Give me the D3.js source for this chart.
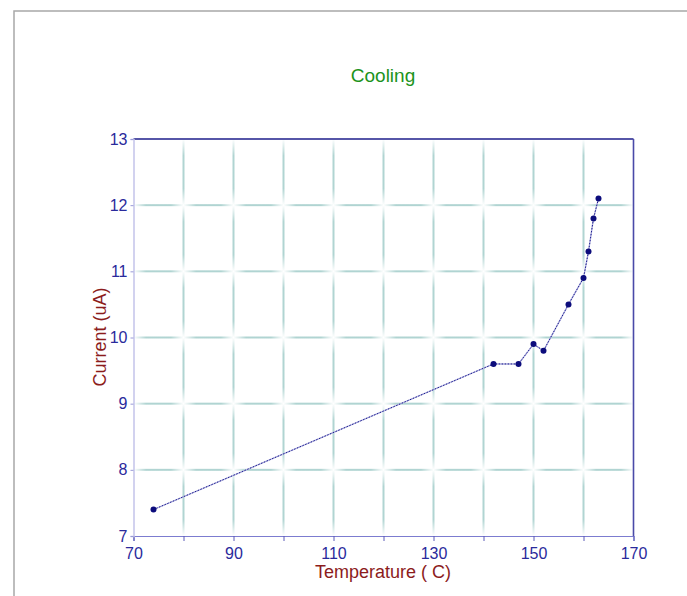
<!DOCTYPE html>
<html>
<head>
<meta charset="utf-8">
<script src="https://cdn.jsdelivr.net/npm/d3@7/dist/d3.min.js"></script>
<style>
  body { margin:0; background:#fff; }
  text { font-family: "Liberation Sans", Arial, sans-serif; }
</style>
</head>
<body>
<svg id="chart" width="687" height="596"></svg>
<script>
// data
var temps    = [74, 142, 147, 150, 152, 157, 160, 161, 162, 163]
var currents = [7.4, 9.6, 9.6, 9.9, 9.8, 10.5, 10.9, 11.3, 11.8, 12.1]
var xTicks = [70, 80, 90, 100, 110, 120, 130, 140, 150, 160, 170]
var xLabels = [70, 90, 110, 130, 150, 170]
var yTicks = [7, 8, 9, 10, 11, 12, 13]

var svg = d3.select("#chart")

var x = d3.scaleLinear().domain([70, 170]).range([133.5, 633.5])
var y = d3.scaleLinear().domain([7, 13]).range([536, 139])

// page frame
svg.append("rect").attr("x", 14).attr("y", 11).attr("width", 800).attr("height", 800)
  .attr("fill", "none").attr("stroke", "#a8a8a8").attr("stroke-width", 1.5)

var defs = svg.append("defs")
function grad(id, vertical){
  var g = defs.append("linearGradient").attr("id", id)
    .attr("x1", 0).attr("y1", 0).attr("x2", vertical ? 0 : 1).attr("y2", vertical ? 1 : 0)
  g.append("stop").attr("offset", "0%").attr("stop-color", "#3a948e").attr("stop-opacity", 0)
  g.append("stop").attr("offset", "25%").attr("stop-color", "#3a948e").attr("stop-opacity", 0.4)
  g.append("stop").attr("offset", "75%").attr("stop-color", "#3a948e").attr("stop-opacity", 0.4)
  g.append("stop").attr("offset", "100%").attr("stop-color", "#3a948e").attr("stop-opacity", 0)
}
grad("gh", false)
grad("gv", true)

var grid = svg.append("g")
//horizontal grid, one faded segment per cell
yTicks.slice(1, -1).forEach(function(v){
  for (var i = 0; i < xTicks.length - 1; i++){
    grid.append("rect")
      .attr("x", x(xTicks[i])).attr("y", y(v) - 1)
      .attr("width", x(xTicks[i+1]) - x(xTicks[i])).attr("height", 2)
      .attr("fill", "url(#gh)")
  }
})
//vertical grid
xTicks.slice(1, -1).forEach(function(v){
  for (var i = 0; i < yTicks.length - 1; i++){
    grid.append("rect")
      .attr("x", x(v) - 1).attr("y", y(yTicks[i+1]))
      .attr("width", 2).attr("height", y(yTicks[i]) - y(yTicks[i+1]))
      .attr("fill", "url(#gv)")
  }
})

// plot borders
svg.append("line").attr("x1", x(70)).attr("x2", x(170)).attr("y1", y(13)).attr("y2", y(13))
  .attr("stroke", "#5656a8").attr("stroke-width", 2)
svg.append("line").attr("x1", x(170)).attr("x2", x(170)).attr("y1", y(13)).attr("y2", y(7))
  .attr("stroke", "#4a4aa8").attr("stroke-width", 1.6)

// axes
var xAxis = svg.append("g").attr("transform", "translate(0," + y(7) + ")")
  .call(d3.axisBottom(x).tickValues(xTicks).tickSize(5).tickFormat(function(d){
    return xLabels.indexOf(d) >= 0 ? d : "" }))
xAxis.select(".domain").attr("stroke", "#7c7cd0").attr("stroke-width", 1.2)
xAxis.selectAll(".tick line").attr("stroke", "#5a5ab8")
xAxis.selectAll("text").attr("fill", "#2a2a9c").attr("font-size", 16).attr("dy", "0.95em")

var yAxis = svg.append("g").attr("transform", "translate(" + x(70) + ",0)")
  .call(d3.axisLeft(y).tickValues(yTicks).tickSize(3).tickPadding(3).tickFormat(d3.format("d")))
yAxis.select(".domain").attr("stroke", "#c4c4ea").attr("stroke-width", 1.5)
yAxis.selectAll(".tick line").attr("stroke", "#9a9ad8")
yAxis.selectAll("text").attr("fill", "#2a2a9c").attr("font-size", 16)

// data line and points
var line = d3.line().x(function(d, i){ return x(temps[i]) }).y(function(d){ return y(d) })
svg.append("path").attr("d", line(currents)).attr("fill", "none")
  .attr("stroke", "#b4b4e0").attr("stroke-width", 1.4)
svg.append("path").attr("d", line(currents)).attr("fill", "none")
  .attr("stroke", "#1e1e90").attr("stroke-width", 1).attr("stroke-dasharray", "1.5,1.5")

svg.selectAll("circle.pt").data(currents).enter().append("circle")
  .attr("class", "pt")
  .attr("cx", function(d, i){ return x(temps[i]) })
  .attr("cy", function(d){ return y(d) })
  .attr("r", 3).attr("fill", "#0c0c7c")

// titles
svg.append("text").attr("x", 383).attr("y", 82).attr("text-anchor", "middle")
  .attr("fill", "#1c931c").attr("font-size", 19).text("Cooling")
svg.append("text").attr("x", 383).attr("y", 578).attr("text-anchor", "middle")
  .attr("fill", "#8c1c1c").attr("font-size", 18).text("Temperature ( C)")
svg.append("text").attr("transform", "translate(106,337)rotate(-90)").attr("text-anchor", "middle")
  .attr("fill", "#8c1c1c").attr("font-size", 18).text("Current (uA)")
</script>
</body>
</html>
